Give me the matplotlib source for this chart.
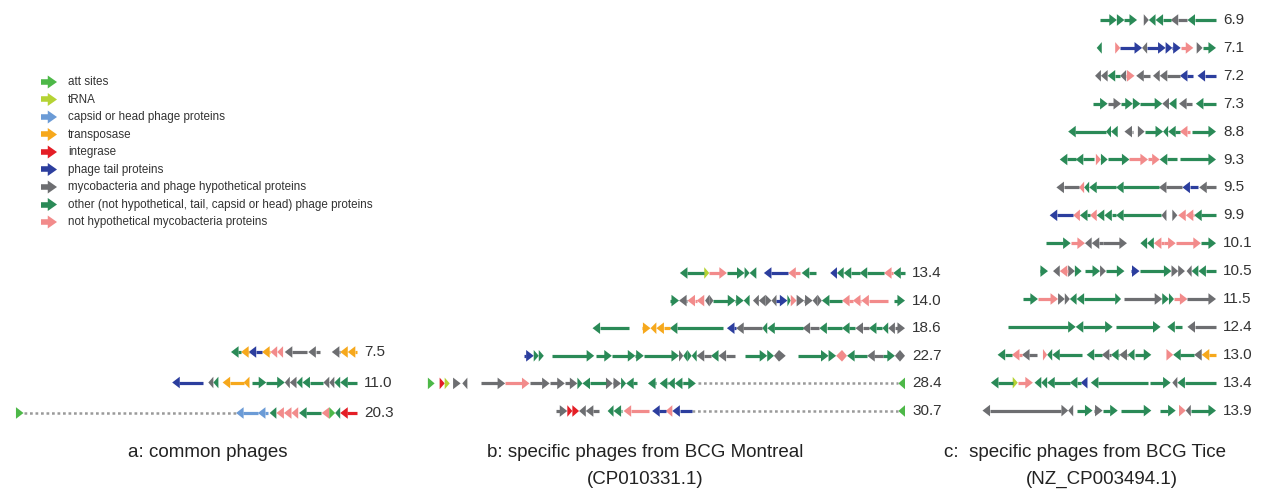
import matplotlib
matplotlib.use("Agg")
import matplotlib.pyplot as plt
from matplotlib.patches import Polygon

plt.rcParams['font.family'] = ['Liberation Sans', 'DejaVu Sans']

# colours of the gene categories
colors = {
    'att': '#4db848',
    'trna': '#b5d334',
    'capsid': '#6b9bd6',
    'transp': '#f6a81c',
    'integ': '#e41e26',
    'tail': '#2c3e9e',
    'hypo': '#6d6e71',
    'phage': '#2a8a57',
    'myco': '#f28b8b',
}
legend_cats = ['att', 'trna', 'capsid', 'transp', 'integ', 'tail', 'hypo', 'phage', 'myco']
legend_labels = [
    'att sites',
    'tRNA',
    'capsid or head phage proteins',
    'transposase',
    'integrase',
    'phage tail proteins',
    'mycobacteria and phage hypothetical proteins',
    'other (not hypothetical, tail, capsid or head) phage proteins',
    'not hypothetical mycobacteria proteins',
]

# genes: (start kb, end kb, strand, category), kb from left end of the track
# ---- a: common phages
a_7_5 = [(0, 0.6, -1, 'phage'), (0.6, 1.05, -1, 'transp'), (1.05, 1.85, -1, 'tail'),
         (1.85, 2.35, -1, 'transp'), (2.35, 2.75, -1, 'myco'), (2.75, 3.1, -1, 'myco'),
         (3.2, 4.5, -1, 'hypo'), (4.6, 5.3, -1, 'hypo'), (6.0, 6.5, -1, 'hypo'),
         (6.5, 6.95, -1, 'transp'), (6.95, 7.5, -1, 'transp')]
a_11_0 = [(0, 1.85, -1, 'tail'), (2.15, 2.45, -1, 'hypo'), (2.45, 2.75, -1, 'phage'),
          (3.0, 4.25, -1, 'transp'), (4.25, 4.6, -1, 'transp'), (4.75, 5.6, 1, 'phage'),
          (5.6, 6.7, 1, 'phage'), (6.7, 7.0, -1, 'hypo'), (7.0, 7.4, -1, 'hypo'),
          (7.4, 7.75, -1, 'phage'), (7.75, 9.0, -1, 'phage'), (9.0, 9.35, -1, 'hypo'),
          (9.35, 9.65, -1, 'hypo'), (9.65, 10.0, -1, 'phage'), (10.0, 11.0, -1, 'phage')]
a_20_3 = [(0, 0.45, 1, 'att'), (13.1, 14.4, -1, 'capsid'), (14.4, 15.0, -1, 'capsid'),
          (15.1, 15.5, -1, 'phage'), (15.5, 15.95, -1, 'myco'), (15.95, 16.4, -1, 'myco'),
          (16.4, 16.8, -1, 'myco'), (16.85, 18.15, -1, 'phage'), (18.2, 18.65, -1, 'myco'),
          (18.65, 19.0, 1, 'att'), (19.0, 19.3, -1, 'phage'), (19.3, 20.3, -1, 'integ')]
a_20_3_gap = [(0.45, 13.1)]

# ---- b: specific phages from BCG Montreal
b_13_4 = [(0, 1.45, -1, 'phage'), (1.45, 1.75, 1, 'trna'), (1.75, 2.8, 1, 'myco'),
          (2.8, 3.85, 1, 'phage'), (3.85, 4.15, 1, 'phage'), (4.15, 4.55, -1, 'phage'),
          (5.0, 6.45, -1, 'tail'), (6.45, 7.15, -1, 'myco'), (7.25, 8.1, -1, 'phage'),
          (8.95, 9.35, -1, 'tail'), (9.35, 9.75, -1, 'phage'), (9.75, 10.7, -1, 'phage'),
          (10.7, 12.15, -1, 'phage'), (12.15, 12.7, -1, 'myco'), (12.7, 13.4, -1, 'phage')]
b_14_0 = [(0, 0.55, 1, 'phage'), (0.55, 1.05, -1, 'hypo'), (1.05, 1.6, -1, 'myco'),
          (1.6, 2.05, -1, 'myco'), (2.1, 2.35, -1, 'hypo'), (2.35, 2.6, 1, 'hypo'),
          (2.6, 3.9, 1, 'phage'), (3.9, 4.4, 1, 'phage'), (4.4, 4.75, -1, 'phage'),
          (4.95, 5.3, -1, 'hypo'), (5.3, 5.7, -1, 'hypo'), (5.7, 6.05, 1, 'hypo'),
          (6.05, 6.35, -1, 'hypo'), (6.35, 7.0, 1, 'tail'), (7.0, 7.2, 1, 'phage'),
          (7.2, 7.55, 1, 'myco'), (7.55, 8.0, 1, 'hypo'), (8.0, 8.5, 1, 'hypo'),
          (8.5, 8.8, -1, 'hypo'), (8.8, 9.05, 1, 'hypo'), (9.05, 10.25, -1, 'phage'),
          (10.25, 10.9, -1, 'myco'), (10.9, 11.4, -1, 'myco'), (11.4, 13.0, -1, 'myco'),
          (13.35, 14.0, 1, 'phage')]
b_18_6 = [(0, 2.15, -1, 'phage'), (2.95, 3.45, 1, 'transp'), (3.45, 3.8, -1, 'transp'),
          (3.8, 4.6, -1, 'transp'), (4.6, 7.75, -1, 'phage'), (8.0, 8.55, -1, 'tail'),
          (8.55, 10.1, -1, 'hypo'), (10.1, 10.4, -1, 'phage'), (10.4, 12.5, -1, 'phage'),
          (12.5, 13.5, -1, 'hypo'), (13.5, 14.85, -1, 'phage'), (14.85, 15.65, -1, 'phage'),
          (15.65, 16.45, -1, 'hypo'), (16.45, 17.25, -1, 'phage'), (17.25, 17.6, -1, 'phage'),
          (17.6, 18.0, -1, 'hypo'), (18.0, 18.6, 1, 'hypo')]
b_22_7 = [(0, 0.6, 1, 'tail'), (0.6, 0.9, 1, 'phage'), (0.9, 1.2, 1, 'phage'),
          (1.7, 4.2, 1, 'phage'), (4.3, 5.25, 1, 'phage'), (5.25, 6.65, 1, 'phage'),
          (6.65, 7.15, 1, 'phage'), (7.15, 9.25, 1, 'phage'), (9.25, 9.5, 1, 'hypo'),
          (9.5, 9.75, -1, 'phage'), (9.75, 10.0, 1, 'phage'), (10.0, 10.3, -1, 'phage'),
          (10.3, 11.15, -1, 'hypo'), (11.15, 11.6, -1, 'phage'), (11.6, 12.6, -1, 'hypo'),
          (13.2, 14.5, 1, 'phage'), (14.5, 14.9, 1, 'phage'), (14.9, 15.2, -1, 'hypo'),
          (15.2, 15.6, 1, 'hypo'), (16.35, 18.15, 1, 'phage'), (18.15, 18.6, 1, 'phage'),
          (18.6, 18.95, -1, 'myco'), (18.95, 19.25, 1, 'myco'), (19.25, 20.45, -1, 'phage'),
          (20.45, 21.4, -1, 'hypo'), (21.4, 22.1, 1, 'phage'), (22.1, 22.4, -1, 'hypo'),
          (22.4, 22.7, 1, 'hypo')]
b_28_4 = [(0, 0.4, 1, 'att'), (0.7, 1.0, 1, 'integ'), (1.0, 1.3, 1, 'trna'),
          (1.5, 1.95, 1, 'hypo'), (2.05, 2.35, -1, 'hypo'), (3.15, 4.6, 1, 'hypo'),
          (4.6, 6.05, 1, 'myco'), (6.05, 7.25, 1, 'hypo'), (7.25, 8.15, 1, 'hypo'),
          (8.15, 8.9, 1, 'hypo'), (8.9, 9.2, 1, 'phage'), (9.2, 10.6, -1, 'phage'),
          (10.6, 11.0, 1, 'hypo'), (11.0, 11.5, 1, 'hypo'), (11.5, 11.8, 1, 'phage'),
          (11.8, 12.45, -1, 'phage'), (13.1, 13.6, -1, 'phage'), (13.8, 14.3, -1, 'phage'),
          (14.3, 14.7, -1, 'phage'), (14.7, 15.2, -1, 'phage'), (15.2, 15.95, 1, 'phage'),
          (28.0, 28.4, -1, 'att')]
b_28_4_gap = [(16.05, 28.0)]
b_30_7 = [(0, 0.7, 1, 'hypo'), (0.7, 1.0, 1, 'integ'), (1.0, 1.4, 1, 'integ'),
          (1.4, 1.8, -1, 'hypo'), (1.8, 2.6, -1, 'hypo'), (3.1, 3.45, -1, 'phage'),
          (3.45, 3.95, -1, 'phage'), (4.05, 5.55, -1, 'myco'), (5.75, 6.55, -1, 'tail'),
          (6.55, 6.95, -1, 'myco'), (6.95, 8.1, -1, 'tail'), (20.4, 20.8, -1, 'att')]
b_30_7_gap = [(8.1, 20.4)]

# ---- c: specific phages from BCG Tice
c_6_9 = [(0, 1.0, 1, 'phage'), (1.0, 1.45, 1, 'phage'), (1.45, 2.2, 1, 'phage'),
         (2.6, 2.9, 1, 'hypo'), (2.9, 3.3, -1, 'phage'), (3.3, 4.2, -1, 'phage'),
         (4.2, 5.2, -1, 'hypo'), (5.2, 6.9, -1, 'phage')]
c_7_1 = [(0, 0.3, -1, 'phage'), (1.1, 1.4, 1, 'myco'), (1.4, 2.7, 1, 'tail'),
         (2.7, 3.0, -1, 'hypo'), (3.0, 4.1, 1, 'tail'), (4.1, 4.5, 1, 'tail'),
         (4.5, 5.0, 1, 'tail'), (5.0, 5.75, 1, 'myco'), (5.95, 6.3, 1, 'hypo'),
         (6.3, 7.1, 1, 'phage')]
c_7_2 = [(0, 0.35, -1, 'hypo'), (0.35, 0.75, -1, 'hypo'), (0.75, 1.5, -1, 'phage'),
         (1.5, 1.85, -1, 'hypo'), (1.85, 2.35, 1, 'myco'), (2.45, 3.25, -1, 'hypo'),
         (3.45, 3.85, -1, 'hypo'), (3.85, 5.05, -1, 'hypo'), (5.05, 5.85, -1, 'tail'),
         (6.1, 7.2, -1, 'tail')]
c_7_3 = [(0, 0.85, 1, 'phage'), (0.85, 1.65, 1, 'hypo'), (1.65, 2.35, 1, 'phage'),
         (2.35, 2.8, 1, 'phage'), (2.8, 4.1, 1, 'phage'), (4.1, 4.5, -1, 'hypo'),
         (4.5, 4.95, -1, 'phage'), (5.1, 5.9, -1, 'hypo'), (6.1, 7.3, -1, 'phage')]
c_8_8 = [(0, 2.25, -1, 'phage'), (2.25, 2.55, -1, 'phage'), (2.55, 2.95, -1, 'phage'),
         (3.35, 3.85, -1, 'hypo'), (4.15, 4.55, 1, 'hypo'), (4.55, 5.65, 1, 'phage'),
         (5.65, 5.95, -1, 'phage'), (5.95, 6.65, -1, 'phage'), (6.65, 7.25, -1, 'myco'),
         (7.35, 8.8, 1, 'phage')]
c_9_3 = [(0, 0.95, -1, 'phage'), (0.95, 2.05, -1, 'phage'), (2.15, 2.45, 1, 'myco'),
         (2.45, 2.85, 1, 'phage'), (2.85, 4.15, 1, 'phage'), (4.15, 5.25, 1, 'myco'),
         (5.25, 5.95, 1, 'myco'), (5.95, 7.0, -1, 'phage'), (7.15, 9.3, 1, 'phage')]
c_9_5 = [(0, 1.35, -1, 'hypo'), (1.35, 1.65, -1, 'myco'), (1.65, 1.95, -1, 'phage'),
         (1.95, 3.55, -1, 'phage'), (3.55, 6.1, -1, 'phage'), (6.1, 7.5, -1, 'hypo'),
         (7.5, 8.4, -1, 'tail'), (8.5, 9.5, -1, 'hypo')]
c_9_9 = [(0, 1.4, -1, 'tail'), (1.4, 1.8, -1, 'myco'), (1.8, 2.4, -1, 'phage'),
         (2.4, 2.8, -1, 'myco'), (2.8, 3.25, -1, 'phage'), (3.25, 3.95, -1, 'phage'),
         (3.95, 6.65, -1, 'phage'), (6.65, 6.95, -1, 'hypo'), (7.3, 7.6, 1, 'hypo'),
         (7.65, 8.1, -1, 'myco'), (8.1, 8.6, -1, 'myco'), (8.6, 9.9, -1, 'phage')]
c_10_1 = [(0, 1.45, 1, 'phage'), (1.45, 2.3, 1, 'myco'), (2.3, 2.7, -1, 'hypo'),
          (2.7, 3.4, -1, 'hypo'), (3.4, 4.8, 1, 'hypo'), (5.6, 6.0, -1, 'phage'),
          (6.0, 6.4, -1, 'phage'), (6.4, 7.0, -1, 'myco'), (7.0, 7.7, 1, 'myco'),
          (7.7, 9.2, 1, 'myco'), (9.2, 10.1, 1, 'phage')]
c_10_5 = [(0, 0.5, 1, 'phage'), (0.8, 1.2, -1, 'hypo'), (1.2, 1.7, -1, 'myco'),
          (1.7, 2.1, 1, 'hypo'), (2.1, 2.5, 1, 'phage'), (2.7, 3.6, 1, 'phage'),
          (3.6, 3.95, 1, 'hypo'), (3.95, 5.05, 1, 'phage'), (5.45, 5.95, 1, 'tail'),
          (5.95, 7.85, 1, 'phage'), (7.85, 8.25, 1, 'hypo'), (8.25, 8.65, 1, 'hypo'),
          (8.75, 9.05, -1, 'hypo'), (9.05, 9.45, -1, 'phage'), (9.45, 10.5, -1, 'phage')]
c_11_5 = [(0, 0.9, 1, 'phage'), (0.9, 2.1, 1, 'myco'), (2.1, 2.5, 1, 'hypo'),
          (2.5, 2.8, 1, 'hypo'), (2.8, 3.2, -1, 'phage'), (3.2, 5.5, -1, 'phage'),
          (5.5, 5.85, 1, 'phage'), (6.05, 8.3, 1, 'hypo'), (8.3, 8.7, 1, 'phage'),
          (8.7, 9.0, 1, 'phage'), (9.0, 9.8, 1, 'myco'), (9.8, 11.5, 1, 'hypo')]
c_12_4 = [(0, 4.05, 1, 'phage'), (4.05, 4.5, -1, 'phage'), (4.5, 6.25, 1, 'phage'),
          (6.45, 9.1, 1, 'phage'), (9.5, 10.4, -1, 'phage'), (10.7, 12.4, -1, 'hypo')]
c_13_0 = [(0, 0.85, -1, 'phage'), (0.85, 1.45, -1, 'myco'), (1.45, 2.35, -1, 'hypo'),
          (2.7, 2.95, 1, 'myco'), (2.95, 3.25, -1, 'phage'), (3.25, 5.0, -1, 'phage'),
          (5.3, 6.2, -1, 'phage'), (6.2, 6.75, -1, 'hypo'), (6.75, 7.25, -1, 'phage'),
          (7.25, 7.75, -1, 'hypo'), (7.75, 8.15, -1, 'phage'), (8.15, 9.15, 1, 'phage'),
          (10.05, 10.45, 1, 'myco'), (10.45, 11.7, -1, 'phage'), (11.7, 12.15, -1, 'hypo'),
          (12.15, 13.0, -1, 'transp')]
c_13_4 = [(0, 1.3, -1, 'phage'), (1.3, 1.6, 1, 'trna'), (1.6, 2.5, 1, 'myco'),
          (2.6, 3.0, -1, 'phage'), (3.0, 3.35, -1, 'phage'), (3.35, 4.7, -1, 'phage'),
          (4.7, 5.35, -1, 'phage'), (5.35, 5.75, -1, 'tail'), (5.95, 9.35, -1, 'phage'),
          (9.45, 10.7, 1, 'phage'), (10.8, 11.1, -1, 'hypo'), (11.1, 13.4, -1, 'phage')]
c_13_9 = [(0, 4.7, -1, 'hypo'), (4.7, 5.1, 1, 'hypo'), (5.1, 5.4, -1, 'hypo'),
          (5.65, 6.55, 1, 'phage'), (6.65, 7.15, 1, 'hypo'), (7.15, 8.05, 1, 'phage'),
          (8.25, 10.05, 1, 'phage'), (10.55, 11.5, 1, 'phage'), (11.7, 12.1, 1, 'myco'),
          (12.1, 12.4, -1, 'hypo'), (12.4, 13.9, 1, 'phage')]

panel_a = [('7.5', a_7_5, []), ('11.0', a_11_0, []), ('20.3', a_20_3, a_20_3_gap)]
panel_b = [('13.4', b_13_4, []), ('14.0', b_14_0, []), ('18.6', b_18_6, []),
           ('22.7', b_22_7, []), ('28.4', b_28_4, b_28_4_gap), ('30.7', b_30_7, b_30_7_gap)]
panel_c = [('6.9', c_6_9, []), ('7.1', c_7_1, []), ('7.2', c_7_2, []), ('7.3', c_7_3, []),
           ('8.8', c_8_8, []), ('9.3', c_9_3, []), ('9.5', c_9_5, []), ('9.9', c_9_9, []),
           ('10.1', c_10_1, []), ('10.5', c_10_5, []), ('11.5', c_11_5, []),
           ('12.4', c_12_4, []), ('13.0', c_13_0, []), ('13.4', c_13_4, []),
           ('13.9', c_13_9, [])]

PX_PER_KB = 16.8
W, H = 1263, 490


def draw_gene(ax, x0, x1, y, strand, color, head=0.45, hw=5.8, lw=2.3):
    hl = min(head, x1 - x0)
    if strand > 0:
        tip, base = x1, x1 - hl
        if base > x0:
            ax.plot([x0, base + 0.02], [y, y], color=color, lw=lw, solid_capstyle='butt')
    else:
        tip, base = x0, x0 + hl
        if x1 > base:
            ax.plot([base - 0.02, x1], [y, y], color=color, lw=lw, solid_capstyle='butt')
    ax.add_patch(Polygon([(base, y - hw), (tip, y), (base, y + hw)],
                         closed=True, facecolor=color, edgecolor='none'))


def draw_panel(ax, tracks, right, y0, dy):
    for i, (label, genes, gaps) in enumerate(tracks):
        y = y0 + i * dy
        span = max([g[1] for g in genes] + [g[1] for g in gaps])
        left = right - span
        for g0, g1 in gaps:
            ax.plot([left + g0, left + g1], [y, y], color='#9a9a9a', lw=1.8,
                    ls=(0, (1.1, 1.1)))
        for g0, g1, strand, cat in genes:
            draw_gene(ax, left + g0, left + g1, y, strand, colors[cat])
        ax.text(right + 0.42, y, label, va='center', ha='left', fontsize=11,
                color='#333333')


fig = plt.figure(figsize=(W / 100, H / 100), dpi=100)
ax = fig.add_axes([0, 0, 1, 1])
ax.set_xlim(0, W / PX_PER_KB)
ax.set_ylim(H, 0)
ax.axis('off')

draw_panel(ax, panel_a, 357 / PX_PER_KB, 352, 30.5)
draw_panel(ax, panel_b, 905 / PX_PER_KB, 273, 27.6)
draw_panel(ax, panel_c, 1216 / PX_PER_KB, 20, 27.9)

# legend
for i, (cat, lab) in enumerate(zip(legend_cats, legend_labels)):
    y = 82 + i * 17.5
    draw_gene(ax, 41 / PX_PER_KB, 57 / PX_PER_KB, y, 1, colors[cat],
              head=0.55, hw=6.5, lw=4.0)
    ax.text(68 / PX_PER_KB, y, lab, va='center', ha='left', fontsize=8.4,
            color='#333333')

# panel titles
tkw = dict(ha='center', va='center', fontsize=13.5, color='#222222')
ax.text(208 / PX_PER_KB, 452, 'a: common phages', **tkw)
ax.text(645 / PX_PER_KB, 452, 'b: specific phages from BCG Montreal', **tkw)
ax.text(645 / PX_PER_KB, 479, '(CP010331.1)', **tkw)
ax.text(1085 / PX_PER_KB, 452, 'c:  specific phages from BCG Tice', **tkw)
ax.text(1102 / PX_PER_KB, 479, '(NZ_CP003494.1)', **tkw)

fig.savefig('out.png', dpi=100, facecolor='white')
plt.close(fig)
